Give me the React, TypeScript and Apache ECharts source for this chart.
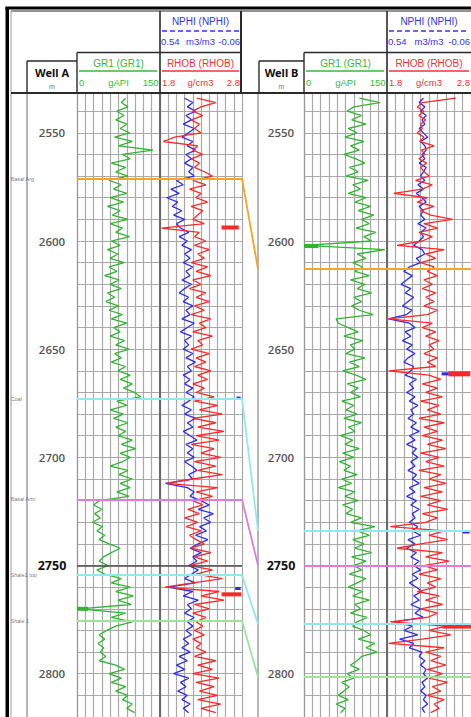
import React, { useEffect, useRef } from "react";
import * as echarts from "echarts";

// ---------- depth axis ----------
const DEPTH_MIN = 2530;
const DEPTH_MAX = 2820;
const SAMPLE_TOP = 2534;
const SAMPLE_STEP = 2;
const MARKED_DEPTH = 2750;
const LABEL_EVERY = 50;

// ---------- Well A logs (samples every 2 m from 2534 m) ----------
const GR_A = [
  88, 80, 92,
  72, 85, 70, 90, 78,
  95, 68, 100, 75, 137,
  82, 96, 62, 88, 70,
  92, 58, 80, 66, 90,
  60, 84, 55, 78, 64,
  92, 60, 82, 70, 95,
  62, 78, 55, 74, 60,
  85, 58, 72, 50, 76,
  60, 80, 55, 68, 52,
  75, 58, 82, 62, 90,
  66, 78, 60, 86, 70,
  94, 68, 80, 62, 88,
  74, 96, 78, 100, 84,
  104, 115, 72, 90, 60,
  84, 66, 92, 70, 88,
  74, 100, 80, 106, 78,
  96, 82, 60, 92, 76,
  100, 78, 96, 72, 94,
  40, 30, 45, 32, 42,
  28, 46, 36, 50, 40,
  58, 78, 62, 48, 40,
  56, 36, 50, 80, 62,
  96, 70, 102, 74, 98,
  5, 88, 62, 100, 70,
  54, 40, 50, 38, 48,
  42, 52, 40, 70, 86,
  58, 80, 62, 88, 70,
  92, 82, 100, 90, 104,
];

const RHOB_A = [
  2.25, 2.48, 2.30,
  2.20, 2.32, 2.18, 2.28, 2.22,
  2.30, 1.98, 1.84, 2.26, 2.20,
  2.32, 2.18, 2.28, 2.22, 2.34,
  2.44, 2.20, 2.36, 2.16, 2.30,
  2.24, 2.38, 2.18, 2.32, 2.26,
  2.20, 2.34, 1.82, 2.28, 2.22,
  2.36, 2.22, 2.40, 2.26, 2.34,
  2.18, 2.38, 2.24, 2.42, 2.20,
  2.30, 2.16, 2.36, 2.24, 2.40,
  2.22, 2.34, 2.18, 2.42, 2.28,
  2.36, 2.20, 2.44, 2.26, 2.32,
  2.18, 2.40, 2.24, 2.36, 2.22,
  2.42, 2.26, 2.38, 2.20, 2.34,
  2.24, 2.46, 2.22, 2.50, 2.28,
  2.56, 2.20, 2.48, 2.26, 2.58,
  2.24, 2.52, 2.18, 2.46, 2.30,
  2.54, 2.22, 2.48, 2.26, 2.56,
  2.20, 1.88, 2.50, 2.24, 2.44,
  2.20, 2.32, 2.14, 2.28, 2.10,
  2.26, 2.12, 2.30, 2.16, 2.24,
  2.34, 2.18, 2.42, 2.22, 2.38,
  2.16, 2.44, 2.24, 2.56, 2.20,
  1.86, 2.52, 2.30, 2.58, 2.22,
  2.40, 2.20, 2.36, 2.24, 2.32,
  2.22, 2.34, 2.20, 2.30, 2.24,
  2.36, 2.22, 2.48, 2.26, 2.44,
  2.20, 2.52, 2.24, 2.46, 2.28,
  2.50, 2.26, 2.54, 2.30, 2.48,
];

const NPHI_A = [
  0.36, 0.30, 0.34,
  0.28, 0.35, 0.31, 0.37, 0.29,
  0.33, 0.38, 0.30, 0.34, 0.28,
  0.35, 0.31, 0.36, 0.30, 0.33,
  0.29, 0.42, 0.37, 0.46, 0.40,
  0.49, 0.41, 0.45, 0.38, 0.44,
  0.36, 0.42, 0.39, 0.33, 0.40,
  0.34, 0.38, 0.31, 0.36, 0.32,
  0.37, 0.30, 0.35, 0.32, 0.38,
  0.31, 0.36, 0.40, 0.33, 0.37,
  0.30, 0.35, 0.32, 0.38, 0.29,
  0.34, 0.39, 0.31, 0.36, 0.33,
  0.37, 0.30, 0.35, 0.28, 0.34,
  0.31, 0.37, 0.32, 0.36, 0.30,
  0.35, 0.29, 0.33, 0.38, 0.31,
  0.36, 0.28, 0.34, 0.30, 0.37,
  0.32, 0.27, 0.35, 0.30, 0.34,
  0.29, 0.36, 0.31, 0.27, 0.33,
  0.30, 0.50, 0.34, 0.29, 0.32,
  0.24, 0.18, 0.26, 0.15, 0.22,
  0.17, 0.25, 0.20, 0.28, 0.19,
  0.26, 0.32, 0.24, 0.30, 0.27,
  0.33, 0.26, 0.31, 0.36, 0.28,
  0.48, 0.30, 0.37, 0.26, 0.34,
  0.31, 0.36, 0.29, 0.34, 0.30,
  0.35, 0.31, 0.37, 0.33, 0.38,
  0.32, 0.40, 0.34, 0.42, 0.36,
  0.44, 0.33, 0.39, 0.35, 0.41,
  0.34, 0.38, 0.32, 0.37, 0.33,
];

// ---------- Well B logs ----------
const GR_B = [
  100, 137, 90,
  78, 104, 86, 112, 80,
  96, 74, 108, 84, 100,
  72, 94, 110, 82, 98,
  76, 116, 88, 102, 80,
  112, 92, 120, 98, 126,
  104, 118, 94, 130, 108,
  122, 3, 146, 96, 112,
  88, 106, 92, 118, 84,
  110, 96, 122, 90, 104,
  86, 100, 125, 58, 62,
  80, 98, 72, 106, 84,
  92, 76, 110, 82, 100,
  70, 94, 112, 78, 98,
  84, 102, 68, 90, 76,
  96, 72, 104, 80, 92,
  66, 88, 74, 100, 70,
  90, 64, 84, 72, 96,
  68, 86, 62, 92, 74,
  98, 70, 88, 76, 104,
  84, 128, 96, 118, 88,
  108, 92, 122, 86, 112,
  90, 104, 82, 112, 96,
  80, 106, 88, 118, 92,
  102, 84, 114, 96, 88,
  108, 120, 98, 128, 112,
  132, 104, 96, 84, 100,
  78, 90, 68, 82, 72,
  62, 80, 58, 74, 66,
];

const RHOB_B = [
  2.62, 2.22, 2.16,
  2.24, 2.18, 2.26, 2.20, 2.22,
  2.16, 2.24, 2.19, 2.36, 2.21,
  2.25, 2.18, 2.27, 2.20, 2.24,
  2.30, 2.14, 2.34, 2.22, 1.88,
  2.28, 2.16, 2.36, 2.20, 2.32,
  2.58, 2.24, 2.40, 2.18, 2.34,
  2.22, 1.92, 2.48, 2.26, 2.38,
  2.20, 2.36, 2.28, 2.40, 2.24,
  2.34, 2.22, 2.38, 2.26, 2.36,
  2.24, 2.40, 2.28, 1.82, 2.34,
  2.22, 2.38, 2.26, 2.42, 2.30,
  2.36, 2.24, 2.40, 2.28, 2.38,
  1.82, 2.30, 2.44, 2.22, 2.40,
  2.26, 2.46, 2.20, 2.42, 2.28,
  2.44, 2.18, 2.48, 2.24, 2.40,
  2.22, 2.46, 2.28, 2.50, 2.20,
  2.42, 2.26, 2.48, 2.18, 2.44,
  2.30, 2.50, 2.24, 2.46, 2.20,
  2.44, 2.28, 2.52, 2.22, 2.40,
  2.26, 1.84, 2.48, 2.30, 2.52,
  2.20, 1.92, 2.46, 2.26, 2.54,
  2.24, 2.40, 2.18, 2.44, 2.28,
  2.38, 2.16, 2.42, 2.26, 2.46,
  2.20, 2.40, 2.28, 1.84, 2.50,
  2.30, 2.56, 2.22, 1.82, 2.48,
  2.26, 2.44, 2.32, 2.50, 2.28,
  2.46, 2.30, 2.52, 2.34, 2.44,
  2.28, 2.48, 2.36, 2.42, 2.32,
];

const NPHI_B = [
  0.28, 0.31, 0.27,
  0.30, 0.26, 0.29, 0.27, 0.31,
  0.28, 0.25, 0.30, 0.27, 0.26,
  0.29, 0.27, 0.31, 0.26, 0.28,
  0.30, 0.27, 0.32, 0.28, 0.33,
  0.29, 0.26, 0.31, 0.28, 0.30,
  0.27, 0.32, 0.26, 0.30, 0.28,
  0.31, 0.35, 0.29, 0.27, 0.33,
  0.30, 0.38, 0.42, 0.36, 0.40,
  0.44, 0.37, 0.41, 0.35, 0.39,
  0.43, 0.36, 0.40, 0.53, 0.38,
  0.34, 0.41, 0.37, 0.43, 0.36,
  0.40, 0.34, 0.39, 0.42, 0.35,
  0.37, 0.41, 0.33, 0.38, 0.35,
  0.40, 0.34, 0.38, 0.32, 0.37,
  0.35, 0.39, 0.33, 0.37, 0.31,
  0.38, 0.34, 0.40, 0.33, 0.36,
  0.32, 0.37, 0.34, 0.39, 0.33,
  0.36, 0.31, 0.38, 0.34, 0.40,
  0.33, 0.37, 0.31, 0.36, 0.34,
  0.38, 0.32, 0.36, 0.30, 0.39,
  0.34, 0.40, 0.33, 0.37, 0.31,
  0.35, 0.30, 0.36, 0.32, 0.38,
  0.33, 0.29, 0.35, 0.31, 0.37,
  0.30, 0.34, 0.28, 0.48, 0.36,
  0.42, 0.32, 0.45, 0.35, 0.38,
  0.29, 0.31, 0.27, 0.30, 0.26,
  0.28, 0.25, 0.29, 0.27, 0.30,
  0.26, 0.28, 0.25, 0.29, 0.27,
];

// short off-trend readings drawn as flat bars: [depth, fromValue, toValue]
const GR_A_FLAGS = [[2770.0, 0, 20]];
const GR_B_FLAGS = [[2602.3, 0, 26]];
const RHOB_A_FLAGS = [[2593.7, 2.55, 2.76], [2763.3, 2.55, 2.79]];
const NPHI_A_FLAGS = [[2672.6, -0.02, -0.05], [2760.6, -0.01, -0.05]];
const RHOB_B_FLAGS = [[2661.4, 2.53, 2.79], [2778.0, 2.46, 2.80]];
const NPHI_B_FLAGS = [[2661.4, 0.15, 0.1], [2734.5, 0.0, -0.05]];

// ---------- formation tops ----------
const TOP_NAMES = ["Basal Arg", "Coal", "Basal Arm", "Shale1 top", "Shale 1"];
const TOPS_A = [2571.2, 2672.9, 2719.4, 2754.4, 2775.6];
const TOPS_B = [2613.0, 2734.0, 2750.0, 2777.0, 2801.5];
const TOP_COLORS = ["#f2a623", "#93e8f0", "#dc7ddc", "#93e8f0", "#98e698"];

// ---------- styling ----------
const GR_COLOR = "#30b530";
const RHOB_COLOR = "#ff2727";
const NPHI_COLOR = "#2b2bff";
const GRID_COLOR = "#a8a8a8";
const HEAD_LINE = "#2a2a2a";
const HEAD_FONT = '"Liberation Sans Narrow", "Liberation Sans", Arial, sans-serif';

const PLOT_TOP = 89.56;
const PLOT_HEIGHT = 629.88;

const toPairs = (vals: number[]) => vals.map((v, i) => [v, SAMPLE_TOP + i * SAMPLE_STEP]);

function buildOption() {
  const tracks = [
    { left: 77, width: 83 }, // 0 GR A
    { left: 160, width: 82 }, // 1 RHOB/NPHI A
    { left: 304, width: 83 }, // 2 GR B
    { left: 387, width: 84 }, // 3 RHOB/NPHI B
    { left: 242, width: 16 }, // 4 correlation
    { left: 27, width: 50 }, // 5 depth A
    { left: 258, width: 46 }, // 6 depth B
  ];

  const trackX = (g: number, min: number, max: number, interval: number) => ({
    type: "value",
    gridIndex: g,
    min,
    max,
    interval,
    axisLine: { show: false, onZero: false },
    axisTick: { show: false },
    axisLabel: { show: false },
    splitLine: { show: true, lineStyle: { color: GRID_COLOR, width: 1.2 } },
  });
  const hiddenX = (g: number, min: number, max: number, inverse = false) => ({
    type: "value",
    gridIndex: g,
    min,
    max,
    inverse,
    show: false,
    axisLine: { onZero: false },
  });

  const depthLabel = (v: number) => {
    if (v % LABEL_EVERY !== 0) return "";
    return v === MARKED_DEPTH ? "{b|" + v + "}" : String(v);
  };

  const depthY = (g: number, extra: any = {}) => ({
    type: "value",
    gridIndex: g,
    min: DEPTH_MIN,
    max: DEPTH_MAX,
    interval: 10,
    inverse: true,
    axisTick: { show: false },
    axisLine: { show: false, onZero: false },
    axisLabel: { show: false },
    splitLine: { show: false },
    ...extra,
  });
  const gridSplit = { show: true, lineStyle: { color: GRID_COLOR, width: 1.2 } };
  const edge = (color: string, width: number) => ({ show: true, onZero: false, lineStyle: { color, width } });
  const labelCfg = (margin: number) => ({
    show: true,
    margin,
    align: "center",
    color: "#555",
    fontSize: 11.5,
    fontWeight: 600,
    fontFamily: '"Open Sans", sans-serif',
    formatter: depthLabel,
    rich: {
      b: { color: "#111", fontSize: 12.5, fontWeight: "bold", fontFamily: '"Open Sans", sans-serif' },
    },
  });

  const tracksMarkLine = (tops: number[]) => ({
    silent: true,
    symbol: ["none", "none"],
    label: { show: false },
    emphasis: { disabled: true },
    data: [
      { yAxis: MARKED_DEPTH, lineStyle: { color: "#4d4d4d", width: 1.6, type: "solid" } },
      ...tops.map((d, i) => ({ yAxis: d, lineStyle: { color: TOP_COLORS[i], width: 2, type: "solid" } })),
    ],
  });

  const curve = (name: string, data: number[], xi: number, yi: number, color: string, extra: any = {}) => ({
    name,
    type: "line",
    xAxisIndex: xi,
    yAxisIndex: yi,
    data: toPairs(data),
    showSymbol: false,
    symbol: "none",
    clip: true,
    lineStyle: { color, width: 1.3 },
    itemStyle: { color },
    silent: true,
    ...extra,
  });

  const flagSeries = (flags: number[][], xi: number, yi: number, color: string, width: number) =>
    flags.map((f) => ({
      type: "line",
      xAxisIndex: xi,
      yAxisIndex: yi,
      data: [
        [f[1], f[0]],
        [f[2], f[0]],
      ],
      showSymbol: false,
      symbol: "none",
      silent: true,
      clip: true,
      lineStyle: { color, width },
      z: 4,
    }));

  const corrSeries = TOPS_A.map((d, i) => ({
    type: "line",
    xAxisIndex: 6,
    yAxisIndex: 4,
    data: [
      [0, d],
      [1, TOPS_B[i]],
    ],
    showSymbol: false,
    symbol: "none",
    silent: true,
    lineStyle: { color: TOP_COLORS[i], width: 1.8 },
  }));

  const topLabels = {
    type: "scatter",
    xAxisIndex: 7,
    yAxisIndex: 5,
    symbolSize: 1,
    itemStyle: { color: "rgba(0,0,0,0)" },
    silent: true,
    data: TOPS_A.map((d, i) => ({ value: [0, d], name: TOP_NAMES[i] })),
    label: {
      show: true,
      position: "left",
      distance: 16,
      align: "left",
      verticalAlign: "middle",
      formatter: (p: any) => p.name,
      fontSize: 5.5,
      color: "#555",
      fontFamily: '"Liberation Sans", sans-serif',
    },
  };

  // ---------- header graphics ----------
  const L = (x1: number, y1: number, x2: number, y2: number, stroke: string, lineWidth: number, lineDash?: number[]) => ({
    type: "line",
    silent: true,
    z: 101,
    shape: { x1, y1, x2, y2 },
    style: { stroke, lineWidth, lineDash },
  });
  const T = (x: number, y: number, text: string, fill: string, size: number, align = "center", weight = "normal", family = HEAD_FONT) => ({
    type: "text",
    silent: true,
    z: 102,
    x,
    y,
    style: { text, fill, fontSize: size, fontWeight: weight, fontFamily: family, align, verticalAlign: "middle" },
  });

  const wellHeader = (wellLeft: number, grLeft: number, rhobLeft: number, rhobRight: number, well: string) => {
    const grC = (grLeft + rhobLeft) / 2;
    const rhC = (rhobLeft + rhobRight) / 2;
    const wC = (wellLeft + grLeft) / 2;
    return [
      L(rhobLeft, 11, rhobLeft, 93, HEAD_LINE, 1.6),
      L(rhobLeft, 52.5, rhobRight, 52.5, HEAD_LINE, 1.6),
      L(grLeft, 52.5, rhobLeft, 52.5, HEAD_LINE, 1.4),
      L(grLeft, 52.5, grLeft, 93, HEAD_LINE, 1.4),
      L(wellLeft, 61, grLeft, 61, HEAD_LINE, 1.4),
      L(wellLeft, 61, wellLeft, 93, HEAD_LINE, 1.4),
      T(rhC, 21, "NPHI (NPHI)", "#3535ee", 10),
      L(rhobLeft + 2, 31, rhobRight - 2, 31, "#3535ee", 1.3, [5, 3]),
      T(rhobLeft + 1, 41, "0.54", "#3535ee", 9.5, "left"),
      T(rhC, 41, "m3/m3", "#3535ee", 9.5),
      T(rhobRight - 1, 41, "-0.06", "#3535ee", 9.5, "right"),
      T(rhC, 63, "RHOB (RHOB)", "#f03434", 10),
      L(rhobLeft + 2, 71, rhobRight - 2, 71, "#f03434", 1.3),
      T(rhobLeft + 2, 82, "1.8", "#f03434", 9.5, "left"),
      T(rhC, 82, "g/cm3", "#f03434", 9.5),
      T(rhobRight - 1, 82, "2.8", "#f03434", 9.5, "right"),
      T(grC, 63, "GR1 (GR1)", "#38b838", 10),
      L(grLeft + 2, 71, rhobLeft - 3, 71, "#38b838", 1.3),
      T(grLeft + 2, 82, "0", "#38b838", 9.5, "left"),
      T(grC, 82, "gAPI", "#38b838", 9.5),
      T(rhobLeft - 1.5, 82, "150", "#38b838", 9.5, "right"),
      T(wC, 72, well, "#111", 11, "center", "bold", '"Noto Sans", "Open Sans", sans-serif'),
      T(wC, 86.5, "m", "#777", 7),
    ];
  };

  const graphics = [
    { type: "rect", silent: true, z: 100, shape: { x: 0, y: 0, width: 471, height: 94 }, style: { fill: "#fff" } },
    { type: "rect", silent: true, z: 100, shape: { x: 0, y: 0, width: 10, height: 717 }, style: { fill: "#fff" } },
    L(11, 11, 471, 11, HEAD_LINE, 1.2),
    L(11, 11, 11, 717, "#9a9a9a", 1),
    L(11, 93, 471, 93, HEAD_LINE, 2),
    L(241, 11, 241, 93, HEAD_LINE, 2),
    ...wellHeader(27, 77, 160, 241, "Well A"),
    ...wellHeader(259, 304, 387, 471, "Well B"),
    { type: "rect", silent: true, z: 103, shape: { x: 5.5, y: 7, width: 3.5, height: 710 }, style: { fill: "#000" } },
    { type: "rect", silent: true, z: 103, shape: { x: 5.5, y: 6.5, width: 466, height: 3 }, style: { fill: "#000" } },
  ];

  return {
    animation: false,
    backgroundColor: "#fff",
    grid: tracks.map((t) => ({ left: t.left, width: t.width, top: PLOT_TOP, height: PLOT_HEIGHT, show: false })),
    xAxis: [
      trackX(0, 0, 150, 15),
      trackX(1, 1.8, 2.8, 0.1),
      hiddenX(1, -0.06, 0.54, true),
      trackX(2, 0, 150, 15),
      trackX(3, 1.8, 2.8, 0.1),
      hiddenX(3, -0.06, 0.54, true),
      hiddenX(4, 0, 1),
      hiddenX(5, 0, 1),
      hiddenX(6, 0, 1),
    ],
    yAxis: [
      depthY(0, { splitLine: gridSplit, axisLine: edge("#999", 1.2), axisLabel: labelCfg(25) }),
      depthY(1, { splitLine: gridSplit, axisLine: edge("#6a6a6a", 2) }),
      depthY(2, { splitLine: gridSplit, axisLine: edge("#999", 1.2), axisLabel: labelCfg(23) }),
      depthY(3, { splitLine: gridSplit, axisLine: edge("#6a6a6a", 2) }),
      depthY(4),
      depthY(5, { axisLine: edge("#b5b5b5", 2) }),
      depthY(6, { axisLine: edge("#b5b5b5", 2) }),
    ],
    series: [
      curve("GR1 A", GR_A, 0, 0, GR_COLOR, { markLine: tracksMarkLine(TOPS_A) }),
      curve("NPHI A", NPHI_A, 2, 1, NPHI_COLOR),
      curve("RHOB A", RHOB_A, 1, 1, RHOB_COLOR, { markLine: tracksMarkLine(TOPS_A) }),
      curve("GR1 B", GR_B, 3, 2, GR_COLOR, { markLine: tracksMarkLine(TOPS_B) }),
      curve("NPHI B", NPHI_B, 5, 3, NPHI_COLOR),
      curve("RHOB B", RHOB_B, 4, 3, RHOB_COLOR, { markLine: tracksMarkLine(TOPS_B) }),
      ...flagSeries(GR_A_FLAGS, 0, 0, GR_COLOR, 4),
      ...flagSeries(GR_B_FLAGS, 3, 2, GR_COLOR, 4),
      ...flagSeries(RHOB_A_FLAGS, 1, 1, RHOB_COLOR, 4),
      ...flagSeries(NPHI_A_FLAGS, 2, 1, NPHI_COLOR, 3),
      ...flagSeries(RHOB_B_FLAGS, 4, 3, RHOB_COLOR, 5),
      ...flagSeries(NPHI_B_FLAGS, 5, 3, NPHI_COLOR, 3),
      ...corrSeries,
      topLabels,
    ],
    graphic: { elements: graphics },
  };
}

export default function App() {
  const ref = useRef<HTMLDivElement>(null);
  useEffect(() => {
    if (!ref.current) return;
    const chart = echarts.init(ref.current, null, { renderer: "svg" });
    chart.setOption(buildOption() as any);
    return () => chart.dispose();
  }, []);
  return (
    <div
      ref={ref}
      style={{ position: "absolute", left: 0, top: 0, width: 471, height: 717, background: "#fff" }}
    />
  );
}
